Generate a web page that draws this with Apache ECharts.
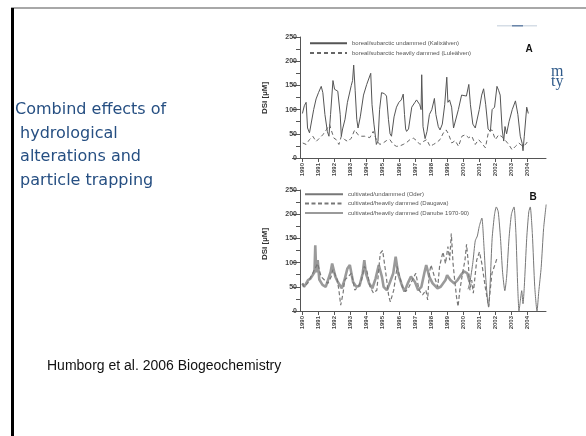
<!DOCTYPE html>
<html><head><meta charset="utf-8">
<script src="https://cdn.jsdelivr.net/npm/echarts@6/dist/echarts.min.js"></script>
<style>html,body{margin:0;padding:0;background:#fff}#c{width:586px;height:436px}</style>
</head><body><div id="c"></div>
<script>
// ---- tick labels ----
const years = [1990,1991,1992,1993,1994,1995,1996,1997,1998,1999,2000,2001,2002,2003,2004];
const yTicks = [0,50,100,150,200,250];

// ---- panel A ----
const kalixName = 'boreal/subarctic undammed (Kalixälven)';
const luleName = 'boreal/subarctic heavily dammed (Luleälven)';
const kalixT = [1990.0,1990.12,1990.23,1990.32,1990.44,1990.55,1990.7,1990.85,1991.0,1991.17,
 1991.27,1991.4,1991.55,1991.65,1991.75,1991.9,1992.0,1992.1,1992.2,1992.27,
 1992.35,1992.42,1992.5,1992.65,1992.8,1993.04,1993.12,1993.19,1993.28,1993.38,
 1993.46,1993.6,1993.8,1994.0,1994.08,1994.25,1994.33,1994.45,1994.6,1994.7,
 1994.8,1994.92,1995.1,1995.23,1995.35,1995.45,1995.54,1995.7,1995.85,1996.0,
 1996.15,1996.27,1996.35,1996.42,1996.48,1996.6,1996.8,1997.0,1997.1,1997.3,
 1997.38,1997.42,1997.5,1997.63,1997.75,1997.9,1998.05,1998.21,1998.3,1998.45,
 1998.56,1998.7,1998.85,1998.98,1999.05,1999.15,1999.28,1999.4,1999.5,1999.7,
 1999.9,2000.02,2000.2,2000.35,2000.45,2000.6,2000.75,2000.85,2001.0,2001.15,
 2001.27,2001.4,2001.55,2001.69,2001.8,2001.95,2002.1,2002.2,2002.3,2002.42,
 2002.52,2002.6,2002.7,2002.85,2003.05,2003.25,2003.4,2003.55,2003.67,2003.72,
 2003.8,2003.95,2004.05];
const kalixV = [92,108,115,62,52,55,100,122,135,148,
 135,90,55,45,90,160,142,145,138,140,
 90,45,60,80,115,150,160,192,140,80,
 62,85,130,152,155,175,110,70,28,35,
 100,135,133,128,80,50,45,85,105,115,
 120,132,90,60,55,60,105,115,120,110,
 100,172,65,40,55,90,100,123,90,65,
 58,70,110,167,115,120,105,62,65,100,
 130,130,128,152,110,70,62,60,100,130,
 143,110,60,55,100,105,148,140,130,60,
 35,65,50,75,100,118,90,45,30,15,
 45,105,92];
const luleT = [1990.02,1990.23,1990.44,1990.65,1990.85,1991.06,1991.27,1991.48,1991.69,1991.79,
 1991.96,1992.1,1992.27,1992.42,1992.63,1992.83,1993.04,1993.25,1993.46,1993.67,
 1993.88,1994.19,1994.4,1994.6,1994.81,1995.02,1995.23,1995.44,1995.65,1995.85,
 1996.06,1996.27,1996.48,1996.69,1996.9,1997.1,1997.31,1997.52,1997.73,1997.94,
 1998.15,1998.35,1998.56,1998.77,1998.94,1999.08,1999.29,1999.5,1999.71,1999.92,
 2000.13,2000.33,2000.54,2000.75,2000.96,2001.17,2001.38,2001.58,2001.79,2002.0,
 2002.21,2002.42,2002.63,2002.83,2003.04,2003.25,2003.46,2003.67,2003.88,2004.08];
const luleV = [31,28,38,45,34,41,48,58,69,58,
 41,38,28,45,38,34,41,58,48,45,
 45,42,55,38,28,31,36,38,28,24,
 25,28,32,38,41,36,28,34,38,24,
 28,32,38,52,58,50,31,36,24,45,
 48,42,45,28,38,30,21,55,58,38,
 48,44,36,28,17,24,31,25,28,38];

// ---- panel B ----
const oderName = 'cultivated/undammed (Oder)';
const daugavaName = 'cultivated/heavily dammed (Daugava)';
const danubeName = 'cultivated/heavily dammed (Danube 1970-90)';
const danubeT = [1990.0,1990.1,1990.2,1990.35,1990.5,1990.65,1990.75,1990.8,1990.86,1990.95,
 1991.05,1991.25,1991.45,1991.6,1991.75,1991.85,1992.05,1992.2,1992.45,1992.6,
 1992.8,1992.95,1993.15,1993.35,1993.55,1993.75,1993.85,1993.95,1994.15,1994.35,
 1994.55,1994.75,1994.95,1995.05,1995.25,1995.45,1995.65,1995.8,1995.95,1996.15,
 1996.35,1996.55,1996.75,1997.0,1997.2,1997.4,1997.6,1997.7,1997.9,1998.1,
 1998.4,1998.6,1998.9,1999.0,1999.2,1999.45,1999.65,1999.85,2000.05,2000.25,2000.4];
const danubeV = [57,50,55,64,67,75,80,136,80,105,
 65,54,50,65,80,98,71,60,47,62,
 88,95,60,50,52,78,105,78,57,47,
 67,95,70,50,43,60,78,112,78,57,
 40,57,71,60,43,50,81,95,70,57,
 47,50,64,74,64,57,64,74,82,78,60];
const daugavaT = [1990.0,1990.1,1990.32,1990.53,1990.74,1990.95,1991.16,1991.37,1991.58,1991.79,
 1991.89,1992.0,1992.17,1992.27,1992.38,1992.53,1992.63,1992.84,1993.05,1993.26,
 1993.47,1993.68,1993.85,1994.0,1994.21,1994.42,1994.63,1994.84,1994.99,1995.16,
 1995.37,1995.47,1995.68,1995.89,1996.0,1996.21,1996.42,1996.63,1996.84,1997.05,
 1997.26,1997.47,1997.68,1997.79,1997.89,1998.0,1998.21,1998.42,1998.53,1998.74,
 1998.9,1999.05,1999.16,1999.26,1999.37,1999.47,1999.58,1999.68,1999.79,1999.96,
 2000.11,2000.21,2000.32,2000.42,2000.53,2000.63,2000.84,2001.01,2001.16,2001.37,
 2001.58,2001.68,2001.79,2002.0,2002.11];
const daugavaV = [57,50,57,71,85,98,71,64,57,71,
 85,78,64,43,12,37,64,71,78,43,
 50,64,92,85,50,37,43,119,125,85,
 30,19,43,92,78,50,40,50,64,78,
 43,33,43,23,78,95,71,50,92,122,
 98,133,105,160,98,64,30,9,43,78,
 105,138,98,43,64,37,105,122,98,50,
 9,43,78,98,110];
const oderT = [2000.3,2000.42,2000.6,2000.75,2000.88,2001.0,2001.16,2001.28,2001.4,2001.52,
 2001.58,2001.68,2001.8,2001.95,2002.06,2002.18,2002.32,2002.45,2002.59,2002.7,
 2002.85,2003.0,2003.16,2003.28,2003.38,2003.47,2003.55,2003.64,2003.72,2003.8,
 2003.95,2004.08,2004.17,2004.3,2004.45,2004.59,2004.7,2004.85,2005.0,2005.16];
const oderV = [45,60,100,145,155,175,192,140,70,20,
 8,60,150,200,215,205,150,80,42,70,
 150,200,215,160,60,0,20,42,15,50,
 150,205,215,160,50,0,40,90,170,220];

// ---- slide texts ----
const titleLines = ['Combind effects of', ' hydrological', ' alterations and', ' particle trapping'];
const citation = 'Humborg et al. 2006 Biogeochemistry';
const yName = 'DSi [µM]';

const zip = (t, v) => t.map((x, i) => [x, v[i]]);
const chart = echarts.init(document.getElementById('c'), null, {renderer: 'canvas'});

function xAx(i) {
  return {
    gridIndex: i, type: 'value', min: 1989.85, max: 2005.15,
    axisLine: {show: true, onZero: false, lineStyle: {color: '#555', width: 1}},
    axisTick: {show: true, customValues: years, length: 4, lineStyle: {color: '#555'}},
    axisLabel: {customValues: years, rotate: 90, fontSize: 6, fontWeight: 'bold', color: '#444',
      margin: 5, fontFamily: 'Liberation Sans', formatter: v => String(v)},
    splitLine: {show: false}
  };
}
function yAx(i) {
  return {
    gridIndex: i, type: 'value', min: 0, max: 250, interval: 50,
    axisLine: {show: true, lineStyle: {color: '#555', width: 1}},
    axisTick: {show: true, length: 8, lineStyle: {color: '#555'}},
    minorTick: {show: true, splitNumber: 2, length: 4, lineStyle: {color: '#555'}},
    axisLabel: {fontSize: 7, fontWeight: 'bold', color: '#444', margin: 3, fontFamily: 'Liberation Sans'},
    splitLine: {show: false}, minorSplitLine: {show: false}
  };
}
const legText = {fontSize: 6, color: '#555', fontFamily: 'Liberation Sans'};

const graphics = [
  {type: 'rect', shape: {x: 11, y: 7, width: 575, height: 2}, style: {fill: '#a8a8a8'}},
  {type: 'rect', shape: {x: 11, y: 8, width: 3, height: 428}, style: {fill: '#000'}},
  {type: 'text', x: 529, y: 49, style: {text: 'A', font: 'bold 10px "Liberation Sans"', fill: '#111', align: 'center', verticalAlign: 'middle'}},
  {type: 'text', x: 533, y: 197, style: {text: 'B', font: 'bold 10px "Liberation Sans"', fill: '#111', align: 'center', verticalAlign: 'middle'}},
  {type: 'text', x: 265, y: 98, rotation: Math.PI / 2, style: {text: yName, font: 'bold 8px "Liberation Sans"', fill: '#333', align: 'center', verticalAlign: 'middle'}},
  {type: 'text', x: 265, y: 244, rotation: Math.PI / 2, style: {text: yName, font: 'bold 8px "Liberation Sans"', fill: '#333', align: 'center', verticalAlign: 'middle'}},
  {type: 'text', x: 47, y: 366, style: {text: citation, font: '14px "Liberation Sans"', fill: '#111', verticalAlign: 'middle'}},
  {type: 'text', x: 551, y: 72, style: {text: 'm', font: '16px "Liberation Serif"', fill: '#2f5a8a', verticalAlign: 'middle'}},
  {type: 'text', x: 551, y: 82, style: {text: 'ty', font: '16px "Liberation Serif"', fill: '#2f5a8a', verticalAlign: 'middle'}},
  {type: 'rect', shape: {x: 497, y: 25, width: 40, height: 1.5}, style: {fill: '#d5dde6'}},
  {type: 'rect', shape: {x: 512, y: 25, width: 11, height: 1.5}, style: {fill: '#6b86aa'}}
];
titleLines.forEach((t, i) => {
  graphics.push({type: 'text', x: 15, y: 110 + i * 23.5,
    style: {text: t, font: '16px "DejaVu Sans"', fill: '#264f82', verticalAlign: 'middle'}});
});

chart.setOption({
  animation: false,
  backgroundColor: '#fff',
  grid: [
    {left: 300, top: 37, width: 246, height: 121},
    {left: 300, top: 190, width: 246, height: 121}
  ],
  xAxis: [xAx(0), xAx(1)],
  yAxis: [yAx(0), yAx(1)],
  legend: [
    {data: [kalixName, luleName], orient: 'vertical', left: 309, top: 40, padding: 0,
     itemWidth: 37, itemHeight: 8, itemGap: 3.5, itemStyle: {opacity: 0}, textStyle: legText},
    {data: [oderName, daugavaName, danubeName], orient: 'vertical', left: 304, top: 191, padding: 0,
     itemWidth: 38, itemHeight: 8, itemGap: 3, itemStyle: {opacity: 0}, textStyle: legText}
  ],
  graphic: graphics,
  series: [
    {type: 'line', name: kalixName, xAxisIndex: 0, yAxisIndex: 0, data: zip(kalixT, kalixV),
     symbol: 'none', color: '#555', lineStyle: {color: '#555', width: 1}},
    {type: 'line', name: luleName, xAxisIndex: 0, yAxisIndex: 0, data: zip(luleT, luleV),
     symbol: 'none', color: '#666', lineStyle: {color: '#666', width: 1, type: [4, 3]}},
    {type: 'line', name: danubeName, xAxisIndex: 1, yAxisIndex: 1, data: zip(danubeT, danubeV),
     symbol: 'none', color: '#9a9a9a', lineStyle: {color: '#9a9a9a', width: 2.6}},
    {type: 'line', name: daugavaName, xAxisIndex: 1, yAxisIndex: 1, data: zip(daugavaT, daugavaV),
     symbol: 'none', color: '#777', lineStyle: {color: '#777', width: 1.2, type: [4, 2.5]}},
    {type: 'line', name: oderName, xAxisIndex: 1, yAxisIndex: 1, data: zip(oderT, oderV),
     symbol: 'none', smooth: 0.2, color: '#777', lineStyle: {color: '#777', width: 1}}
  ]
});
</script>
</body></html>
